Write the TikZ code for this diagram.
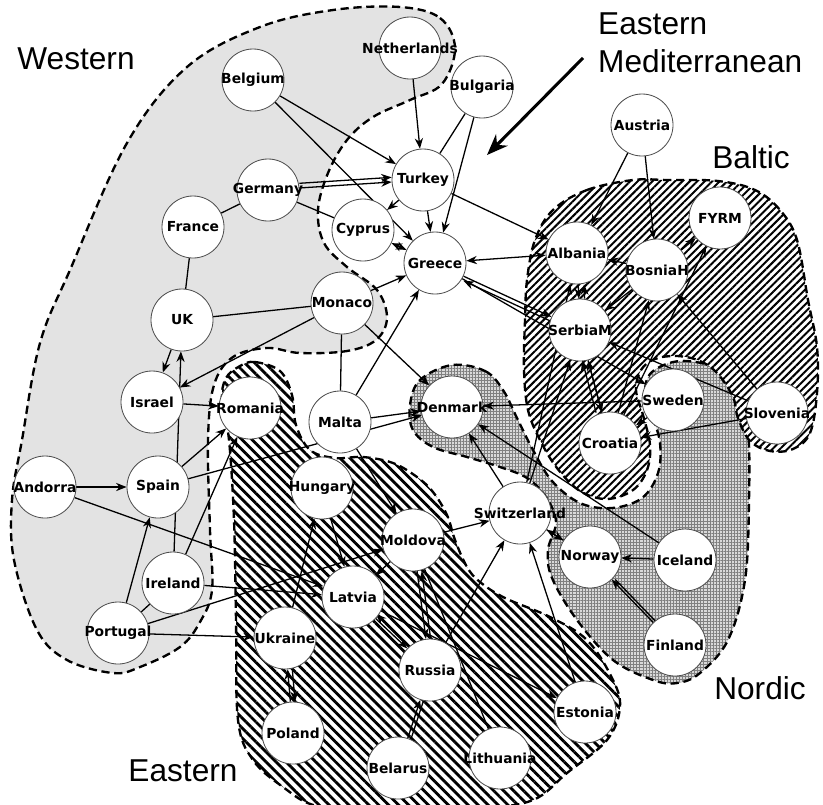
\documentclass[tikz,border=0pt]{standalone}
\usepackage{fontspec}
\usetikzlibrary{arrows.meta,patterns.meta}
\newfontfamily\ctryfam{DejaVu Sans}
\newfontfamily\grpfam{Liberation Sans}
\newcommand{\ctryfont}{\ctryfam\bfseries\fontsize{11.8}{13}\selectfont}
\newcommand{\grpfont}{\grpfam\fontsize{27}{33}\selectfont}

\pgfdeclarelayer{zones}
\pgfdeclarelayer{links}
\pgfsetlayers{zones,links,main}

% connect every node of #2 to every node of #3
\newcommand{\conn}[3][]{%
  \begin{pgfonlayer}{links}
    \foreach \x in {#2} {\foreach \y in {#3} {\draw[relation,#1] (\x) -- (\y);}}
  \end{pgfonlayer}}

\tikzset{
  country/.style={circle, draw=black!70, line width=0.7pt, fill=white,
    minimum size=1.86cm, inner sep=0pt, label={[ctrylabel]center:#1}},
  ctrylabel/.style={font=\ctryfont, inner sep=0pt},
  relation/.style={->, line width=1.1pt, >={Stealth[length=9pt,width=7pt]}},
  noarrow/.style={-},
  zone/.style={draw, line width=2pt, dash pattern=on 7pt off 4pt},
  grouplabel/.style={font=\grpfont, inner sep=0pt},
  pointer/.style={line width=2.6pt, -{Stealth[length=18pt,width=14pt]}},
}

\begin{document}
\begin{tikzpicture}[x=0.03cm, y=-0.03cm]
  \useasboundingbox (0,0) rectangle (823,804);

  % Define nodes
  \node[country=Netherlands] (nl)  at (410,48)  {};
  \node[country=Belgium]     (be)  at (253,80)  {};
  \node[country=Bulgaria]    (bg)  at (482,87)  {};
  \node[country=Austria]     (aus) at (642,125) {};
  \node[country=Turkey]      (tr)  at (423,180) {};
  \node[country=Germany]     (de)  at (268,190) {};
  \node[country=France]      (fr)  at (193,227) {};
  \node[country=Cyprus]      (cy)  at (363,230) {};
  \node[country=FYRM]        (fy)  at (720,218) {};
  \node[country=Greece]      (gr)  at (435,263) {};
  \node[country=Albania]     (al)  at (577,253) {};
  \node[country=BosniaH]     (ba)  at (657,270) {};
  \node[country=SerbiaM]     (cs)  at (580,330) {};
  \node[country=Monaco]      (mc)  at (342,303) {};
  \node[country=UK]          (gb)  at (182,320) {};
  \node[country=Israel]      (il)  at (152,402) {};
  \node[country=Romania]     (ro)  at (250,408) {};
  \node[country=Malta]       (mt)  at (340,422) {};
  \node[country=Denmark]     (dk)  at (452,407) {};
  \node[country=Sweden]      (se)  at (673,400) {};
  \node[country=Slovenia]    (si)  at (777,413) {};
  \node[country=Croatia]     (hr)  at (610,443) {};
  \node[country=Andorra]     (ad)  at (45,487)  {};
  \node[country=Spain]       (es)  at (158,487) {};
  \node[country=Hungary]     (hu)  at (322,488) {};
  \node[country=Moldova]     (md)  at (413,540) {};
  \node[country=Switzerland] (ch)  at (520,513) {};
  \node[country=Norway]      (no)  at (590,557) {};
  \node[country=Iceland]     (is)  at (685,560) {};
  \node[country=Ireland]     (ie)  at (173,583) {};
  \node[country=Latvia]      (lv)  at (353,597) {};
  \node[country=Portugal]    (pt)  at (118,633) {};
  \node[country=Ukraine]     (ua)  at (285,638) {};
  \node[country=Finland]     (fi)  at (675,645) {};
  \node[country=Russia]      (ru)  at (430,670) {};
  \node[country=Estonia]     (ee)  at (585,712) {};
  \node[country=Poland]      (pl)  at (293,733) {};
  \node[country=Belarus]     (by)  at (398,768) {};
  \node[country=Lithuania]   (lt)  at (500,758) {};

  % Group labels
  \node[grouplabel] (wlabel) at (76,59) {Western};
  \node[grouplabel, align=left, anchor=north west] (emlabel) at (598,12) {Eastern\\Mediterranean};
  \node[grouplabel] (blabel) at (751,157) {Baltic};
  \node[grouplabel] (nlabel) at (760,688) {Nordic};
  \node[grouplabel] (elabel) at (183,771) {Eastern};
  \coordinate (emtail) at (583,58);
  \coordinate (emtip) at (487,155);
  \draw[pointer] (emtail) -- (emtip);

  % Connect the nodes
  \conn{nl,be}{tr}
  \conn[noarrow]{bg}{tr}
  \conn{bg,be,tr,mc,mt}{gr}
  \conn{de}{tr}
  \conn[transform canvas={yshift=4pt}]{de}{tr}
  \conn[noarrow]{de}{cy}
  \conn{tr}{cy}
  \conn[<->]{cy}{gr}
  \conn{tr}{al}
  \conn[<->]{gr}{al}
  \conn{gr}{cs}
  \conn[transform canvas={yshift=-4pt}]{cs}{gr}
  \conn{gr}{se}
  \conn{mc,mt,es,ch,is,se}{dk}
  \conn[noarrow]{mc}{mt,gb}
  \conn{mc}{il}
  \conn[noarrow]{fr}{de,gb}
  \conn{gb}{il}
  \conn{ie}{gb}
  \conn{il,es,ie}{ro}
  \conn{ad}{es}
  \conn{ad,ie}{lv}
  \conn{pt}{es,ua,md}
  \conn[noarrow]{pt}{ie}
  \conn{pl}{ua}
  \conn[transform canvas={xshift=4pt}]{ua}{pl}
  \conn{ua}{hu}
  \conn{hu}{lv}
  \conn{mt}{md}
  \conn{md,ru,ee,no}{ch}
  \conn{ch}{no,cs,al}
  \conn{is,fi}{no}
  \conn[noarrow, transform canvas={xshift=3pt}]{fi}{no}
  \conn{si}{hr,cs,ba}
  \conn{hr}{cs,ba,fy}
  \conn[transform canvas={xshift=-5pt}]{hr}{cs}
  \conn{aus}{al,ba}
  \conn{ba}{fy,al,cs}
  \conn{al}{cs}
  \conn[transform canvas={xshift=5pt}]{cs}{al}
  \conn{cs,se}{hr}
  \conn{md}{ru}
  \conn[transform canvas={xshift=4pt}]{ru}{md}
  \conn{lv}{ru}
  \conn[transform canvas={yshift=4pt}]{ru}{lv}
  \conn{md}{lv}
  \conn{by}{ru}
  \conn[noarrow, transform canvas={xshift=3pt}]{by}{ru}
  \conn{lv}{ee}
  \conn[noarrow]{md}{lt}

  % Groups
  \begin{pgfonlayer}{zones}
    \path[zone, fill=gray!22] plot[smooth cycle, tension=0.6] coordinates {
      (400,7) (440,18) (455,48) (442,84) (410,100) (373,117) (347,140)
      (328,173) (318,210) (324,243) (347,267) (377,290) (387,318) (376,340)
      (347,351) (300,353) (267,348) (233,357) (214,385) (208,440) (210,530)
      (212,590) (200,622) (180,647) (140,667) (113,673) (67,660) (37,630)
      (14,560) (12,500) (22,440) (40,343) (70,270) (127,143) (187,67)
      (260,27) (333,10)};
    \path[zone, preaction={fill=white},
      pattern={Lines[angle=-45,distance=6pt,line width=2.4pt]}]
      plot[smooth cycle, tension=0.6] coordinates {
      (240,366) (255,362) (280,371) (292,395) (296,425) (310,450) (335,458)
      (363,457) (393,463) (417,477) (433,492) (447,515) (455,540) (467,567)
      (480,582) (505,598) (550,617) (587,640) (612,678) (620,707) (607,740)
      (567,773) (533,800) (480,808) (380,810) (317,806) (283,787) (253,760)
      (238,720) (236,620) (234,520) (229,440) (222,400) (226,378)};
    \path[zone, preaction={fill=gray!30},
      pattern={Hatch[angle=0,distance=2.6pt,line width=0.35pt]}, pattern color=gray]
      plot[smooth cycle, tension=0.6] coordinates {
      (452,365) (485,371) (503,390) (517,418) (533,450) (552,481) (580,503)
      (612,508) (642,498) (658,473) (660,443) (652,415) (645,392) (652,372)
      (680,361) (715,368) (738,392) (748,430) (749,500) (745,580) (728,640)
      (700,673) (677,683) (653,680) (613,660) (577,620) (552,578) (548,550)
      (556,522) (546,497) (527,478) (500,467) (467,457) (433,447) (413,430)
      (410,405) (420,380)};
    \path[zone, preaction={fill=white},
      pattern={Lines[angle=45,distance=4.5pt,line width=1.7pt]}]
      plot[smooth cycle, tension=0.6] coordinates {
      (553,210) (587,190) (633,180) (667,180) (718,181) (755,190) (780,210)
      (797,240) (808,300) (817,347) (817,393) (810,433) (793,449) (770,451)
      (750,441) (738,418) (733,397) (718,374) (700,361) (677,356) (655,359)
      (641,370) (636,390) (643,415) (650,445) (647,470) (633,490) (607,499)
      (580,491) (557,468) (540,440) (528,410) (524,370) (525,320) (527,280)
      (535,240)};
  \end{pgfonlayer}

\end{tikzpicture}
\end{document}
